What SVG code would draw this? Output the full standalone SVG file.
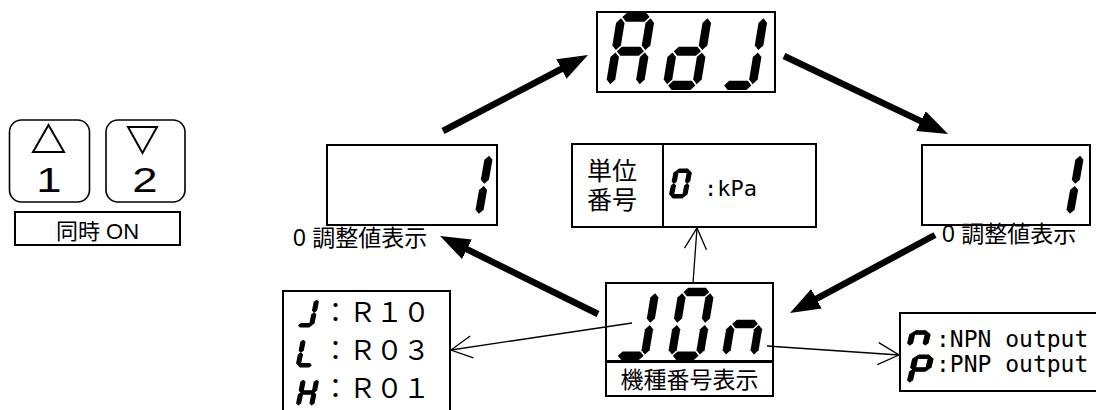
<svg xmlns="http://www.w3.org/2000/svg" width="1096" height="410" viewBox="0 0 1096 410">
<style>
.box{fill:#fff;stroke:#000;stroke-width:2}
.btn{fill:#fff;stroke:#000;stroke-width:1.6}
.tri{fill:none;stroke:#000;stroke-width:2;stroke-linejoin:miter}
.dig{fill:#000}
.sm{fill:#000;stroke:#000;stroke-width:3;stroke-linejoin:round}
.jp{font-family:"Liberation Sans","Noto Sans CJK JP",sans-serif;fill:#000}
.fw{font-family:"Noto Sans CJK JP",sans-serif;fill:#000}
.mono{font-family:"DejaVu Sans Mono","Liberation Mono",monospace;fill:#000}
.thick{stroke:#000;stroke-width:6.5;fill:none;marker-end:url(#solid)}
.thin{stroke:#000;stroke-width:1.3;fill:none;marker-end:url(#open)}
</style>
<defs>
<marker id="solid" markerUnits="userSpaceOnUse" viewBox="0 0 30 22" markerWidth="30" markerHeight="22" refX="15" refY="11" orient="auto">
<path d="M0,0 L30,11 L0,22 Z" fill="#000"/>
</marker>
<marker id="open" markerUnits="userSpaceOnUse" viewBox="0 0 22 24" markerWidth="22" markerHeight="24" refX="21" refY="12" orient="auto" overflow="visible">
<path d="M0,1 L21,12 L0,23" fill="none" stroke="#000" stroke-width="1.3"/>
</marker>
<path id="sa" d="M5.7,-71.5 L10.2,-76 L29.8,-76 L34.3,-71.5 L29.8,-67 L10.2,-67Z"/>
<path id="sg" d="M5.7,-38 L10.2,-42.5 L29.8,-42.5 L34.3,-38 L29.8,-33.5 L10.2,-33.5Z"/>
<path id="sd" d="M5.7,-4.5 L10.2,-9 L29.8,-9 L34.3,-4.5 L29.8,0 L10.2,0Z"/>
<path id="sf" d="M4.5,-70.3 L9,-65.8 L9,-43.7 L4.5,-39.2 L0,-43.7 L0,-65.8Z"/>
<path id="sb" d="M35.5,-70.3 L40,-65.8 L40,-43.7 L35.5,-39.2 L31,-43.7 L31,-65.8Z"/>
<path id="se" d="M4.5,-36.8 L9,-32.3 L9,-10.2 L4.5,-5.7 L0,-10.2 L0,-32.3Z"/>
<path id="sc" d="M35.5,-36.8 L40,-32.3 L40,-10.2 L35.5,-5.7 L31,-10.2 L31,-32.3Z"/>
<g id="d1"><use href="#sb"/><use href="#sc"/></g>
<g id="dA"><use href="#sa"/><use href="#sb"/><use href="#sc"/><use href="#se"/><use href="#sf"/><use href="#sg"/></g>
<g id="dd"><use href="#sb"/><use href="#sc"/><use href="#sd"/><use href="#se"/><use href="#sg"/></g>
<g id="dJ"><use href="#sb"/><use href="#sc"/><use href="#sd"/></g>
<g id="d0"><use href="#sa"/><use href="#sb"/><use href="#sc"/><use href="#sd"/><use href="#se"/><use href="#sf"/></g>
<g id="dn"><use href="#sc"/><use href="#se"/><use href="#sg"/></g>
<g id="dL"><use href="#sd"/><use href="#se"/><use href="#sf"/></g>
<g id="dH"><use href="#sb"/><use href="#sc"/><use href="#se"/><use href="#sf"/><use href="#sg"/></g>
<g id="dP"><use href="#sa"/><use href="#sb"/><use href="#se"/><use href="#sf"/><use href="#sg"/></g>
</defs>
<rect width="1096" height="410" fill="#fff"/>

<g id="buttons">
<rect class="btn" x="9.5" y="120" width="80" height="82" rx="12"/>
<rect class="btn" x="106" y="120" width="79" height="82" rx="12"/>
<polygon class="tri" points="48.5,125 33,152 64,152"/>
<polygon class="tri" points="128,127 157,127 142.5,153"/>
<text class="jp" transform="translate(49,192) scale(1.3,1)" font-size="35" text-anchor="middle">1</text>
<text class="jp" transform="translate(145,192) scale(1.3,1)" font-size="35" text-anchor="middle">2</text>
<rect class="box" x="15" y="212" width="165" height="33"/>
<text class="jp" x="97.5" y="239" font-size="22" text-anchor="middle">同時 ON</text>
</g>

<g id="adj">
<rect class="box" x="597" y="12" width="178" height="80"/>
<use class="dig" href="#dA" transform="translate(605,90) scale(0.95,1.02) skewX(-10)"/>
<use class="dig" href="#dd" transform="translate(662,90) scale(0.95,1.02) skewX(-10)"/>
<use class="dig" href="#dJ" transform="translate(718,90) scale(0.95,1.02) skewX(-10)"/>
</g>

<g id="value-left">
<rect class="box" x="327" y="145" width="170" height="80"/>
<use class="dig" href="#d1" transform="translate(446,219) scale(0.9,0.9) skewX(-10)"/>
<text class="jp" x="293" y="246" font-size="23">0 調整値表示</text>
</g>

<g id="value-right">
<rect class="box" x="922" y="145" width="168" height="80"/>
<use class="dig" href="#d1" transform="translate(1037,219) scale(0.9,0.9) skewX(-10)"/>
<text class="jp" x="942" y="242" font-size="23">0 調整値表示</text>
</g>

<g id="unit">
<rect class="box" x="572" y="144" width="244" height="83"/>
<line x1="663" y1="144" x2="663" y2="227" stroke="#000" stroke-width="2"/>
<text class="jp" x="587" y="180" font-size="25">単位</text>
<text class="jp" x="587" y="209" font-size="25">番号</text>
<use class="sm" href="#d0" transform="translate(669,198) scale(0.43,0.38) skewX(-10)"/>
<text class="mono" x="704" y="196" font-size="22">:kPa</text>
</g>

<g id="model">
<rect class="box" x="606" y="283" width="167" height="78"/>
<use class="dig" href="#dJ" transform="translate(612,360) scale(0.9,0.95) skewX(-10)"/>
<use class="dig" href="#d0" transform="translate(667,360) scale(0.9,0.95) skewX(-10)"/>
<use class="dig" href="#dn" transform="translate(721,360) scale(0.9,0.95) skewX(-10)"/>
<rect class="box" x="606" y="362" width="167" height="34"/>
<text class="jp" x="689.5" y="388" font-size="23" text-anchor="middle">機種番号表示</text>
</g>

<g id="range-list">
<rect class="box" x="283" y="291" width="167" height="125"/>
<use class="sm" href="#dJ" transform="translate(296,327) scale(0.43,0.38) skewX(-10)"/>
<use class="sm" href="#dL" transform="translate(296,367) scale(0.43,0.38) skewX(-10)"/>
<use class="sm" href="#dH" transform="translate(296,407) scale(0.43,0.38) skewX(-10)"/>
<text class="fw" x="322" y="322" font-size="27">：Ｒ１０</text>
<text class="fw" x="322" y="360" font-size="27">：Ｒ０３</text>
<text class="fw" x="322" y="398" font-size="27">：Ｒ０１</text>
</g>

<g id="output-list">
<rect class="box" x="900" y="313" width="200" height="78"/>
<use class="sm" href="#dn" transform="translate(907,347) scale(0.5,0.38) skewX(-10)"/>
<use class="sm" href="#dP" transform="translate(907,384) scale(0.5,0.38) skewX(-10)"/>
<text class="mono" x="936" y="347" font-size="23">:NPN output</text>
<text class="mono" x="936" y="372" font-size="23">:PNP output</text>
</g>

<g id="connectors">
<line class="thick" x1="443" y1="131" x2="574.7" y2="62"/>
<line class="thick" x1="784" y1="56" x2="934.5" y2="127.6"/>
<line class="thick" x1="935" y1="235" x2="803.2" y2="305.9"/>
<line class="thick" x1="598" y1="314" x2="453.5" y2="242.6"/>
<line class="thin" x1="693" y1="283" x2="697" y2="228"/>
<line class="thin" x1="632" y1="323" x2="451" y2="350"/>
<line class="thin" x1="767" y1="346" x2="899" y2="355"/>
</g>
</svg>
